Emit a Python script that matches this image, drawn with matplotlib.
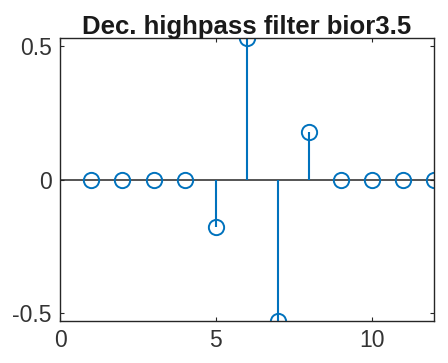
import numpy as np
import matplotlib.pyplot as plt

plt.rcParams['font.family'] = ['Liberation Sans', 'DejaVu Sans']

n = [1, 2, 3, 4, 5, 6, 7, 8, 9, 10, 11, 12]
hi_d = [0, 0, 0, 0, -0.1768, 0.5303, -0.5303, 0.1768, 0, 0, 0, 0]
xticks = [0, 5, 10]
yticks = [-0.5, 0, 0.5]

fig = plt.figure(figsize=(4.48, 3.63), dpi=100)
ax = fig.add_axes([0.134, 0.116, 0.835, 0.779])

blue = '#0072BD'
ml, sl, bl = ax.stem(n, hi_d, basefmt=' ')
plt.setp(sl, color=blue, linewidth=1.5)
plt.setp(ml, color=blue, marker='o', markersize=11, markerfacecolor='none', markeredgewidth=1.4)
ax.axhline(0, color='#262626', linewidth=1.1, zorder=1)

ax.set_xlim(0, 12)
ax.set_ylim(-0.5303, 0.5303)
ax.set_xticks(xticks)
ax.set_xticklabels(['0', '5', '10'])
ax.set_yticks(yticks)
ax.set_yticklabels(['-0.5', '0', '0.5'])
ax.tick_params(direction='in', top=True, right=True, labelsize=16.5, colors='#262626', length=3, pad=6)
for lab in ax.get_xticklabels() + ax.get_yticklabels():
    lab.set_color('#333333')
for s in ax.spines.values():
    s.set_color('#262626')
    s.set_linewidth(1.0)
ax.set_title('Dec. highpass filter bior3.5', fontsize=18.5, fontweight='bold', color='#1a1a1a', pad=3)

plt.savefig('out.png', dpi=100)
plt.close()
